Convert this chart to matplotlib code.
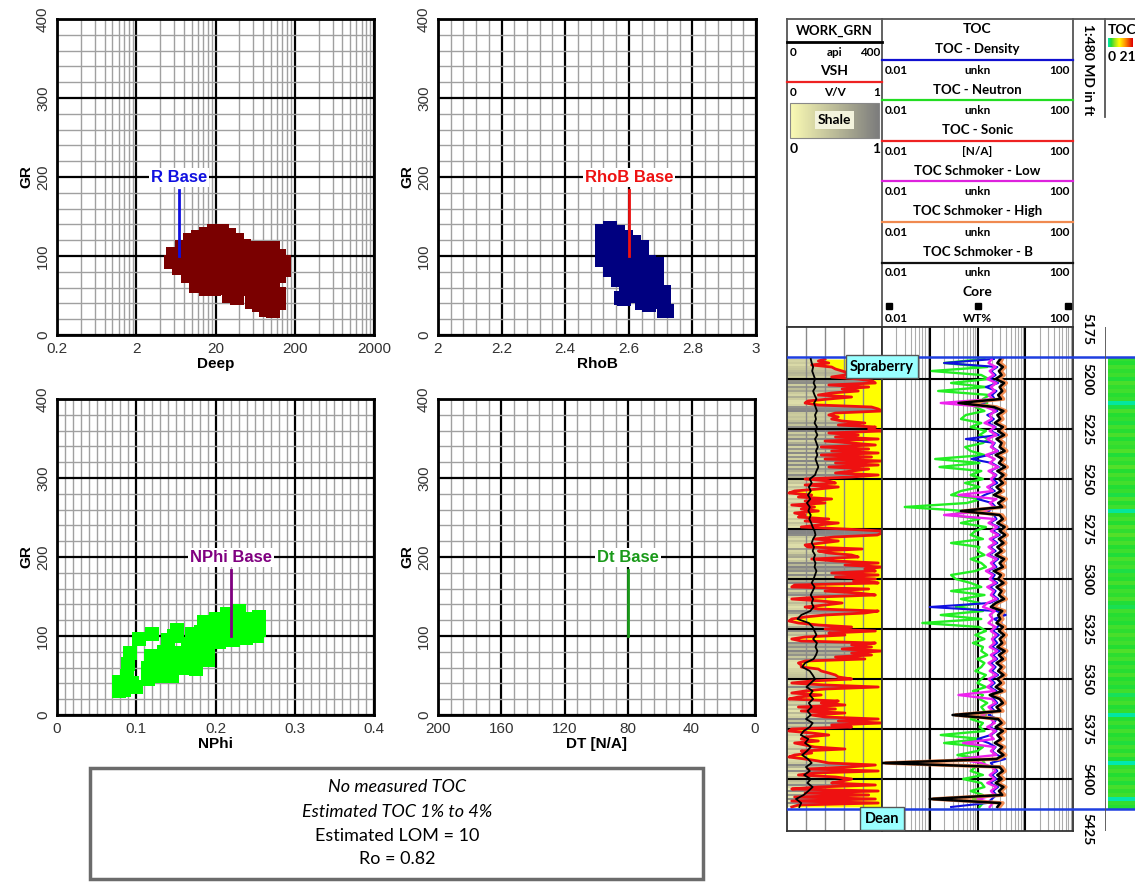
import numpy as np
import matplotlib.pyplot as plt
import matplotlib.transforms as mtrans
from matplotlib.colors import LinearSegmentedColormap
from matplotlib.patches import Rectangle, Polygon
from matplotlib.ticker import FixedLocator, FixedFormatter, MultipleLocator, NullFormatter

plt.rcParams['font.family'] = ['Liberation Sans', 'DejaVu Sans']

# ---------------- crossplot data (GR vs other logs) ----------------
deep_x = [5.5, 5.8, 7, 7.2, 7.5, 9, 9, 9.5, 9.5, 11.5, 11.5, 12, 12, 12,
          15, 15, 15, 15, 15, 15, 19, 19, 19, 19, 19, 19, 24, 24, 24, 24, 24, 24,
          30, 30, 30, 30, 30, 30, 37, 37, 37, 37, 37, 37, 46, 46, 46, 46, 46,
          57, 57, 57, 57, 57, 57, 70, 70, 70, 70, 70, 70, 86, 86, 86, 86, 86, 86,
          105, 105, 105, 105, 105, 105, 125, 125, 125, 125, 125, 145, 145]
deep_gr = [92, 102, 85, 98, 112, 75, 90, 105, 120, 62, 78, 95, 110, 124,
           58, 72, 88, 102, 116, 128, 58, 75, 92, 108, 122, 132, 60, 72, 88, 104, 118, 132,
           50, 64, 80, 96, 112, 126, 47, 62, 78, 95, 110, 120, 58, 72, 88, 102, 113,
           42, 55, 70, 86, 100, 110, 38, 52, 66, 82, 96, 110, 32, 45, 62, 78, 94, 108,
           30, 46, 70, 86, 100, 110, 40, 52, 75, 90, 100, 82, 92]

rhob_x = [2.515, 2.515, 2.515, 2.515, 2.54, 2.54, 2.54, 2.54, 2.54,
          2.565, 2.565, 2.565, 2.565, 2.565, 2.59, 2.59, 2.59, 2.59, 2.59, 2.59,
          2.615, 2.615, 2.615, 2.615, 2.615, 2.615, 2.64, 2.64, 2.64, 2.64, 2.64, 2.64,
          2.665, 2.665, 2.665, 2.665, 2.665, 2.69, 2.69, 2.69, 2.69, 2.69,
          2.71, 2.71, 2.71, 2.72, 2.575, 2.585]
rhob_gr = [95, 108, 120, 132, 82, 95, 110, 125, 135,
           70, 85, 100, 115, 130, 55, 68, 82, 96, 110, 124,
           50, 62, 76, 90, 104, 118, 40, 55, 70, 84, 98, 112,
           38, 52, 66, 80, 92, 42, 55, 70, 82, 90,
           30, 40, 55, 30, 47, 45]

nphi_x = [0.078, 0.078, 0.085, 0.088, 0.09, 0.092, 0.1, 0.103, 0.095,
          0.115, 0.115, 0.118, 0.12, 0.13, 0.132, 0.135, 0.14,
          0.145, 0.148, 0.15, 0.148, 0.152, 0.16, 0.162, 0.165, 0.17,
          0.175, 0.178, 0.18, 0.182, 0.185, 0.19, 0.19, 0.195, 0.198, 0.2,
          0.205, 0.21, 0.212, 0.215, 0.222, 0.225, 0.228, 0.23,
          0.238, 0.24, 0.242, 0.252, 0.255, 0.255, 0.255]
nphi_gr = [30, 42, 32, 50, 65, 78, 35, 96, 40,
           45, 60, 75, 102, 50, 65, 80, 95,
           50, 62, 78, 100, 108, 60, 75, 90, 102,
           58, 72, 88, 105, 118, 70, 85, 98, 112, 122,
           92, 105, 118, 128, 95, 108, 120, 132,
           98, 110, 122, 100, 112, 124, 108]

base_names = ['R Base', 'RhoB Base', 'NPhi Base', 'Dt Base']
base_x = [7, 2.6, 0.22, 80]
base_gr = 100
base_colors = ['#1010e0', '#ee1111', '#800080', '#1a9a1a']

# ---------------- log data ----------------
vsh_depth = np.arange(5190, 5415)
vsh = np.array([
    0.40, 0.33, 0.44, 0.26, 0.47, 0.51, 0.58, 0.65, 0.61, 0.47,
    0.75, 0.90, 0.93, 0.44, 0.86, 0.58, 0.75, 0.47, 0.33, 0.68,
    0.44, 0.22, 0.19, 0.33, 0.89, 0.96, 1.00, 0.51, 0.44, 0.54,
    0.47, 0.58, 0.82, 0.54, 0.93, 0.86, 1.00, 0.44, 0.75, 0.51,
    0.96, 0.40, 0.68, 0.93, 0.36, 0.86, 0.47, 0.96, 0.36, 0.89,
    0.40, 1.00, 0.51, 0.96, 0.44, 0.86, 0.68, 0.51, 0.96, 0.68,
    0.19, 0.44, 0.51, 0.19, 0.54, 0.33, 0.08, 0.02, 0.26, 0.12,
    0.47, 0.19, 0.40, 0.05, 0.29, 0.15, 0.33, 0.08, 0.19, 0.12,
    0.44, 0.19, 0.54, 0.33, 0.15, 0.60, 1.00, 1.00, 0.95, 0.50,
    0.29, 0.54, 0.36, 0.19, 0.22, 0.79, 0.33, 0.44, 0.68, 0.75,
    0.26, 0.51, 0.96, 0.61, 1.00, 0.82, 0.93, 0.47, 0.96, 0.51,
    0.93, 0.70, 0.96, 0.08, 0.05, 0.86, 0.40, 0.75, 0.93, 0.33,
    0.05, 0.36, 0.58, 0.40, 0.19, 0.33, 0.96, 0.82, 0.40, 0.19,
    0.05, 0.02, 0.12, 0.33, 0.68, 0.40, 0.93, 0.44, 0.61, 0.19,
    0.05, 0.15, 0.93, 0.68, 0.89, 0.58, 1.00, 0.68, 0.89, 0.51,
    0.82, 0.19, 0.12, 0.15, 0.15, 0.33, 0.36, 0.44, 0.51, 0.54,
    0.68, 0.26, 0.05, 0.40, 0.96, 0.40, 0.19, 0.05, 0.36, 0.12,
    0.02, 0.54, 0.36, 0.61, 0.12, 0.51, 0.15, 0.61, 0.26, 0.40,
    0.96, 0.54, 1.00, 0.47, 0.68, 0.05, 0.02, 0.26, 0.44, 0.19,
    0.15, 0.33, 0.08, 0.19, 0.29, 0.61, 0.15, 0.26, 0.08, 0.02,
    0.19, 0.33, 0.44, 0.93, 0.65, 0.22, 0.96, 0.29, 0.12, 0.51,
    0.68, 0.58, 0.47, 0.93, 0.33, 0.05, 0.96, 0.19, 0.86, 0.08,
    0.93, 0.05, 0.96, 0.12, 0.05])

curve_depth = np.arange(5190, 5415, 2)
work_grn = [100, 104, 110, 106, 112, 118, 112, 120, 110, 116,
            124, 114, 120, 126, 118, 122, 116, 126, 120, 128,
            118, 124, 130, 122, 128, 120, 126, 132, 124, 118,
            96, 104, 92, 100, 88, 98, 84, 96, 90, 100,
            94, 102, 108, 116, 120, 110, 104, 114, 108, 118,
            112, 120, 116, 124, 118, 112, 104, 116, 108, 100,
            110, 104, 112, 98, 60, 44, 92, 108, 116, 124,
            110, 126, 120, 128, 122, 112, 76, 64, 96, 108,
            118, 100, 82, 108, 96, 110, 92, 104, 86, 100,
            80, 108, 96, 70, 58, 90, 76, 100, 84, 64,
            88, 104, 80, 96, 72, 100, 86, 108, 90, 70,
            38, 60, 52]

toc_density = [2.2, 0.2, 2.6, 1.9, 2.4, 1.8, 2.7, 1.5, 2.5, 2.0,
               2.3, 1.2, 1.9, 2.6, 1.6, 2.2, 1.7, 2.4, 1.9, 2.8,
               0.57, 2.3, 2.0, 2.7, 1.7, 0.75, 2.0, 2.8, 1.8, 2.5,
               2.1, 2.6, 1.7, 2.3, 1.4, 1.0, 2.0, 2.4, 1.6, 2.2,
               2.5, 1.8, 2.8, 2.1, 2.9, 2.0, 2.6, 1.8, 2.4, 1.7,
               2.7, 2.1, 2.5, 1.6, 2.3, 2.0, 2.6, 1.8, 2.4, 2.1,
               2.7, 1.8, 0.1, 2.5, 3.9, 2.2, 3.2, 2.6, 2.1, 2.8,
               2.2, 2.6, 2.0, 2.9, 2.1, 2.6, 1.9, 2.4, 2.0, 2.7,
               1.9, 2.3, 1.8, 2.5, 1.9, 2.2, 2.6, 1.9, 2.3, 1.7,
               2.6, 2.1, 1.8, 2.5, 1.9, 1.0, 1.7, 2.4, 2.0, 2.6,
               3.8, 1.9, 2.2, 2.6, 2.0, 2.5, 1.8, 2.7, 2.1, 2.5,
               2.0, 1.6, 0.28]
toc_neutron = [1.4, 0.2, 1.6, 0.11, 1.2, 1.7, 0.28, 1.5, 0.15, 1.8,
               1.3, 1.6, 0.9, 1.4, 0.57, 0.45, 1.2, 0.72, 1.5, 1.1,
               1.7, 1.3, 0.55, 0.72, 1.4, 0.13, 1.1, 0.16, 1.2, 0.72,
               1.3, 0.55, 1.1, 0.45, 0.28, 1.2, 0.6, 0.03, 0.57, 0.28,
               1.1, 0.45, 1.5, 0.9, 0.72, 1.3, 0.28, 1.1, 1.0, 1.4,
               0.72, 1.2, 1.5, 0.9, 0.28, 0.35, 0.72, 1.2, 0.28, 1.4,
               0.45, 1.1, 0.35, 1.3, 0.17, 1.2, 0.07, 1.1, 1.5, 0.9,
               1.4, 0.8, 1.3, 1.2, 1.6, 1.0, 1.4, 1.2, 0.9, 1.5,
               1.2, 1.0, 1.5, 0.8, 1.3, 1.1, 1.6, 1.2, 1.4, 1.5,
               0.72, 1.3, 1.1, 1.4, 0.17, 1.2, 0.2, 1.3, 1.0, 0.38,
               1.2, 1.4, 0.9, 0.72, 1.3, 0.5, 1.2, 1.4, 0.72, 1.3,
               0.8, 1.3, 1.1]
toc_low = [2.0, 1.7, 2.4, 1.8, 2.2, 1.6, 2.5, 1.9, 2.3, 1.7,
           2.1, 0.17, 1.5, 2.4, 1.8, 2.0, 1.4, 2.3, 1.8, 2.5,
           1.6, 2.2, 1.9, 2.6, 1.5, 2.3, 1.8, 2.7, 1.7, 2.4,
           1.9, 2.3, 1.6, 2.1, 0.4, 2.5, 1.8, 2.2, 1.5, 0.2,
           2.3, 1.7, 2.6, 1.9, 2.7, 1.8, 2.4, 1.7, 2.2, 1.6,
           2.5, 1.9, 2.3, 1.5, 2.1, 1.8, 2.4, 1.6, 2.2, 1.9,
           2.5, 1.6, 1.3, 2.3, 1.8, 2.1, 1.7, 2.4, 1.9, 2.5,
           2.0, 2.3, 1.8, 2.6, 1.9, 2.4, 1.7, 2.2, 1.8, 2.5,
           1.7, 2.1, 1.6, 2.3, 0.4, 2.0, 2.4, 1.7, 2.1, 1.2,
           1.9, 2.3, 1.6, 2.4, 1.8, 2.2, 0.5, 2.3, 1.9, 2.5,
           0.38, 1.2, 2.0, 2.4, 1.8, 2.3, 1.6, 2.5, 1.9, 2.3,
           1.0, 2.1, 1.8]
toc_high = [3.3, 3.0, 3.8, 3.1, 3.6, 2.8, 4.0, 3.2, 3.7, 3.0,
            3.5, 0.5, 2.5, 3.9, 3.0, 3.4, 2.6, 3.8, 3.0, 4.0,
            2.8, 3.6, 3.3, 4.1, 2.7, 3.7, 3.1, 4.2, 2.9, 3.9,
            3.1, 3.8, 2.8, 3.5, 2.5, 4.0, 3.0, 3.7, 0.5, 3.3,
            3.8, 2.9, 4.1, 3.3, 4.2, 3.1, 3.9, 2.9, 3.6, 2.7,
            4.0, 3.3, 3.8, 2.5, 3.5, 3.0, 3.9, 2.8, 3.6, 3.1,
            4.0, 2.7, 2.2, 3.7, 3.0, 3.4, 2.8, 3.8, 3.1, 4.0,
            3.3, 3.7, 2.9, 4.1, 3.1, 3.8, 2.8, 3.6, 3.0, 3.9,
            2.9, 3.5, 2.7, 3.7, 2.0, 3.3, 3.8, 2.8, 3.4, 0.35,
            3.0, 3.6, 2.7, 3.8, 2.9, 3.5, 2.6, 3.7, 3.0, 3.9,
            2.8, 0.012, 3.3, 3.8, 2.9, 3.6, 2.7, 3.9, 3.1, 3.7,
            0.12, 3.4, 2.9]
toc_b = [3.0, 2.6, 3.4, 2.8, 3.2, 2.4, 3.6, 2.9, 3.3, 2.7,
         3.1, 0.4, 2.2, 3.5, 2.6, 3.0, 2.3, 3.4, 2.7, 3.6,
         2.5, 3.2, 2.9, 3.7, 2.4, 3.3, 2.8, 3.8, 2.6, 3.5,
         2.8, 3.4, 2.5, 3.1, 2.2, 3.6, 2.7, 3.3, 0.45, 2.9,
         3.4, 2.6, 3.7, 2.9, 3.8, 2.8, 3.5, 2.6, 3.2, 2.4,
         3.6, 2.9, 3.4, 2.2, 3.1, 2.7, 3.5, 2.5, 3.2, 2.8,
         3.6, 2.4, 1.9, 3.3, 2.7, 3.0, 2.5, 3.4, 2.8, 3.6,
         2.9, 3.3, 2.6, 3.7, 2.8, 3.4, 2.5, 3.2, 2.7, 3.5,
         2.6, 3.1, 2.4, 3.3, 1.8, 2.9, 3.4, 2.5, 3.0, 0.3,
         2.7, 3.2, 2.4, 3.4, 2.6, 3.1, 2.3, 3.3, 2.7, 3.5,
         2.5, 0.01, 2.9, 3.4, 2.6, 3.2, 2.4, 3.5, 2.8, 3.3,
         0.1, 3.0, 2.6]

top_names = ['Spraberry', 'Dean']
top_depths = [5189, 5415]
depth_ticks = np.arange(5175, 5426, 25)

hdr_names = ['TOC - Density', 'TOC - Neutron', 'TOC - Sonic',
             'TOC Schmoker - Low', 'TOC Schmoker - High', 'TOC Schmoker - B']
hdr_units = ['unkn', 'unkn', '[N/A]', 'unkn', 'unkn', 'unkn']
hdr_colors = ['#1010d0', '#22dd22', '#ee2222', '#dd22dd', '#f08a50', '#111111']

note_lines = ['No measured TOC', 'Estimated TOC 1% to 4%', 'Estimated LOM = 10', 'Ro = 0.82']
note_styles = ['italic', 'italic', 'normal', 'normal']

shale_cmap = LinearSegmentedColormap.from_list('shale', ['#ececb4', '#c8c89c', '#858585'])
hdr_shale = LinearSegmentedColormap.from_list('hshale', ['#fafab4', '#7d7d7d'])
toc_cmap = LinearSegmentedColormap.from_list(
    'toc', [(0, '#00e8b0'), (0.12, '#22dd33'), (0.25, '#8ee21e'), (0.45, '#ffff00'),
            (0.7, '#ff9000'), (1, '#dd0000')])

W, H = 1135, 882
fig = plt.figure(figsize=(W / 100, H / 100), dpi=100)


def box(l, t, r, b):
    return [l / W, 1 - b / H, (r - l) / W, (b - t) / H]


ov = fig.add_axes([0, 0, 1, 1])
ov.set_zorder(-1)
ov.axis('off')


# ---------------- crossplots ----------------
def xplot(rect, xlim, major, minor, labels, xlabel, log=False):
    ax = fig.add_axes(box(*rect))
    if log:
        ax.set_xscale('log')
    ax.set_xlim(*xlim)
    ax.set_ylim(0, 400)
    ax.xaxis.set_major_locator(FixedLocator(major))
    ax.xaxis.set_minor_locator(FixedLocator(minor))
    ax.xaxis.set_major_formatter(FixedFormatter(labels))
    ax.xaxis.set_minor_formatter(NullFormatter())
    ax.yaxis.set_major_locator(MultipleLocator(100))
    ax.yaxis.set_minor_locator(MultipleLocator(20))
    ax.grid(which='minor', color='#a0a0a0', lw=1.0)
    ax.grid(which='major', color='black', lw=1.6)
    ax.tick_params(which='both', length=0, labelsize=11, labelcolor='#333333', pad=5)
    ax.tick_params(axis='y', labelrotation=90)
    for t in ax.get_yticklabels():
        t.set_va('center')
    for s in ax.spines.values():
        s.set_linewidth(2)
    ax.set_xlabel(xlabel, fontsize=11, fontweight='bold', labelpad=1)
    ax.set_ylabel('GR', fontsize=11, fontweight='bold', labelpad=2)
    return ax


def base_marker(ax, x, name, color):
    ax.plot([x, x], [base_gr, 183], color=color, lw=2, zorder=4)
    ax.text(x, 200, name, color=color, ha='center', va='center', fontsize=12,
            fontweight='bold', zorder=5,
            bbox=dict(facecolor='white', edgecolor='none', pad=1.5))


log_minor = [0.2 * k * 10 ** n for n in range(4) for k in range(2, 10)]
a1 = xplot((57, 19, 374, 335), (0.2, 2000), [0.2, 2, 20, 200, 2000], log_minor,
           ['0.2', '2', '20', '200', '2000'], 'Deep', log=True)
a1.plot(deep_x, deep_gr, 's', color='#7a0000', ms=9.5, mew=0, zorder=3)
base_marker(a1, base_x[0], base_names[0], base_colors[0])

a2 = xplot((438, 19, 756, 335), (2, 3), np.arange(2, 3.01, 0.2), np.arange(2, 3.01, 0.04),
           ['2', '2.2', '2.4', '2.6', '2.8', '3'], 'RhoB')
a2.plot(rhob_x, rhob_gr, 's', color='#000080', ms=9.5, mew=0, zorder=3)
base_marker(a2, base_x[1], base_names[1], base_colors[1])

a3 = xplot((57, 399, 374, 715), (0, 0.4), np.arange(0, 0.41, 0.1), np.arange(0, 0.401, 0.01),
           ['0', '0.1', '0.2', '0.3', '0.4'], 'NPhi')
a3.plot(nphi_x, nphi_gr, 's', color='#00ff00', ms=10, mew=0, zorder=3)
base_marker(a3, base_x[2], base_names[2], base_colors[2])

a4 = xplot((438, 399, 755, 715), (200, 0), np.arange(0, 201, 40), np.arange(0, 201, 8),
           ['0', '40', '80', '120', '160', '200'], 'DT [N/A]')
base_marker(a4, base_x[3], base_names[3], base_colors[3])

# ---------------- note box ----------------
ov.add_patch(Rectangle((90, 768), 613, 111, fill=False, edgecolor='#6b6b6b', lw=2.5))
for txt, y, st in zip(note_lines, [787, 812, 836, 859], note_styles):
    ov.text(397, y, txt, ha='center', va='center', fontsize=13, style=st, family='Lato')

# ---------------- log header ----------------
hk = dict(color='#555555', lw=1.3)
ov.plot([787, 1135], [19, 19], **hk)
for x in [787, 882, 1073]:
    ov.plot([x, x], [19, 327], **hk)
ov.plot([1105, 1105], [19, 117], **hk)
ov.plot([787, 1073], [327, 327], **hk)

bold = dict(family='Lato', fontweight='bold')
sm = 8.5
ov.text(834.5, 31, 'WORK_GRN', ha='center', va='center', fontsize=9.5, **bold)
ov.plot([787, 882], [42, 42], color='black', lw=2)
ov.text(790, 52, '0', ha='left', va='center', fontsize=sm, **bold)
ov.text(834.5, 52, 'api', ha='center', va='center', fontsize=sm, **bold)
ov.text(880, 52, '400', ha='right', va='center', fontsize=sm, **bold)
ov.text(834.5, 71, 'VSH', ha='center', va='center', fontsize=10, **bold)
ov.plot([787, 882], [82, 82], color='#ee2222', lw=1.6)
ov.text(790, 93, '0', ha='left', va='center', fontsize=sm, **bold)
ov.text(834.5, 93, 'V/V', ha='center', va='center', fontsize=sm, **bold)
ov.text(880, 93, '1', ha='right', va='center', fontsize=sm, **bold)
ov.imshow(np.linspace(0, 1, 60)[None, :], extent=(790, 879, 138, 103), cmap=hdr_shale,
          aspect='auto', zorder=1)
ov.add_patch(Rectangle((790, 103), 89, 35, fill=False, edgecolor='#888888', lw=0.8, zorder=2))
ov.text(834.5, 120, 'Shale', ha='center', va='center', fontsize=10, zorder=3,
        bbox=dict(facecolor='#f3f3dc', edgecolor='none', pad=2), **bold)
ov.text(790, 149, '0', ha='left', va='center', fontsize=10, **bold)
ov.text(880, 149, '1', ha='right', va='center', fontsize=10, **bold)

ov.text(977.5, 29, 'TOC', ha='center', va='center', fontsize=10, **bold)
for i, (nm, un, c) in enumerate(zip(hdr_names, hdr_units, hdr_colors)):
    y = 49 + 40.6 * i
    ov.text(977.5, y, nm, ha='center', va='center', fontsize=9.5, **bold)
    ov.plot([882, 1073], [y + 10.5, y + 10.5], color=c, lw=1.6)
    ov.text(885, y + 21, '0.01', ha='left', va='center', fontsize=sm, **bold)
    ov.text(977.5, y + 21, un, ha='center', va='center', fontsize=sm, **bold)
    ov.text(1070, y + 21, '100', ha='right', va='center', fontsize=sm, **bold)
ov.text(977.5, 292, 'Core', ha='center', va='center', fontsize=10, **bold)
ov.plot([889, 978, 1068], [306, 306, 306], 's', color='black', ms=5)
ov.text(885, 318, '0.01', ha='left', va='center', fontsize=sm, **bold)
ov.text(977.5, 318, 'WT%', ha='center', va='center', fontsize=sm, **bold)
ov.text(1070, 318, '100', ha='right', va='center', fontsize=sm, **bold)

ov.text(1088, 24, '1:480 MD in ft', rotation=-90, ha='center', va='top', fontsize=10, **bold)
ov.text(1108, 30, 'TOC', ha='left', va='center', fontsize=10, **bold)
ov.imshow(np.linspace(0, 21, 60)[None, :], extent=(1108, 1133, 47, 38), cmap=toc_cmap,
          aspect='auto', zorder=1)
ov.text(1108, 57, '0 21', ha='left', va='center', fontsize=10, **bold)
ov.set_xlim(0, W)
ov.set_ylim(H, 0)

# ---------------- log tracks ----------------
d_top, d_bot = 5174, 5426


def track(l, r):
    ax = fig.add_axes(box(l, 327, r, 831))
    ax.set_ylim(d_bot, d_top)
    for s in ax.spines.values():
        s.set_linewidth(1.3)
        s.set_color('#333333')
    for d in depth_ticks[1:-1]:
        ax.axhline(d, color='black', lw=1.5, zorder=2)
    for d in top_depths:
        ax.axhline(d, color='#1f3fe0', lw=1.8, zorder=7)
    return ax


def no_ticks(ax):
    ax.tick_params(which='both', bottom=False, top=False, left=False, right=False,
                   labelbottom=False, labeltop=False, labelleft=False, labelright=False)


t1 = track(787, 882)
t1.set_xlim(0, 1)
im = t1.imshow(vsh[:, None], extent=(0, 1, vsh_depth[-1] + 0.5, vsh_depth[0] - 0.5),
               aspect='auto', cmap=shale_cmap, vmin=0, vmax=1, interpolation='nearest',
               zorder=0.5)
verts = np.column_stack([np.r_[np.zeros(len(vsh)), vsh[::-1]],
                         np.r_[vsh_depth, vsh_depth[::-1]]])
clip = Polygon(verts, closed=True, transform=t1.transData, facecolor='none', edgecolor='none')
t1.add_patch(clip)
im.set_clip_path(clip)
t1.fill_betweenx(vsh_depth, vsh, 1, color='#ffff00', lw=0, zorder=1)
for x in [0.2, 0.4, 0.6, 0.8]:
    t1.axvline(x, color='#8a8a8a', lw=1, zorder=1.8)
t1.plot(vsh, vsh_depth, color='#ee1111', lw=2, zorder=4)
t1.set_xlim(0, 1)
t1.set_ylim(d_bot, d_top)
g = t1.twiny()
g.set_xlim(0, 400)
g.set_ylim(d_bot, d_top)
g.axis('off')
g.plot(work_grn, curve_depth, color='black', lw=1.3)
no_ticks(t1)

t2 = track(882, 1073)
t2.set_xscale('log')
t2.set_xlim(0.01, 100)
for dec in [0.01, 0.1, 1, 10]:
    for k in range(2, 10):
        t2.axvline(dec * k, color='#ababab', lw=0.8, zorder=1)
for dec in [0.1, 1, 10]:
    t2.axvline(dec, color='black', lw=1.5, zorder=2)
t2.plot(toc_neutron, curve_depth, color='#22ee22', lw=1.7, zorder=3)
t2.plot(toc_density, curve_depth, color='#1010e0', lw=1.5, zorder=3.2)
t2.plot(toc_low, curve_depth, color='#ee22ee', lw=1.7, zorder=3.4)
t2.plot(toc_high, curve_depth, color='#f08a50', lw=2.6, zorder=3.6)
t2.plot(toc_b, curve_depth, color='black', lw=1.8, zorder=3.8)
t2.set_ylim(d_bot, d_top)
no_ticks(t2)

dax = fig.add_axes(box(1073, 327, 1105, 831))
dax.set_ylim(d_bot, d_top)
dax.set_xlim(0, 1)
dax.axis('off')
for d in top_depths:
    dax.axhline(d, color='#1f3fe0', lw=1.8)
for d in depth_ticks:
    dax.text(0.45, d, str(d), rotation=-90, ha='center', va='center', fontsize=10,
             transform=dax.get_yaxis_transform(), **bold)

sax = fig.add_axes(box(1105, 327, 1135, 831))
sax.set_ylim(d_bot, d_top)
sax.set_xlim(0, 1)
sax.imshow(np.array(toc_b)[:, None], extent=(0.1, 1, curve_depth[-1] + 1, curve_depth[0] - 1),
           aspect='auto', cmap=toc_cmap, vmin=0, vmax=21, interpolation='nearest')
sax.set_xlim(0, 1)
sax.set_ylim(d_bot, d_top)
for d in top_depths:
    sax.axhline(d, color='#1f3fe0', lw=1.8)
sax.axvline(0, color='#555555', lw=1.3)
sax.axis('off')

blend = mtrans.blended_transform_factory(t1.transAxes, t1.transData)
for nm, d in zip(top_names, top_depths):
    fig.text(1.0, d + 1.3, nm, transform=blend, ha='center', va='top', fontsize=10.5,
             bbox=dict(facecolor='#99ffff', edgecolor='#555555', boxstyle='square,pad=0.3'),
             **bold)

fig.savefig('out.png', dpi=100)
